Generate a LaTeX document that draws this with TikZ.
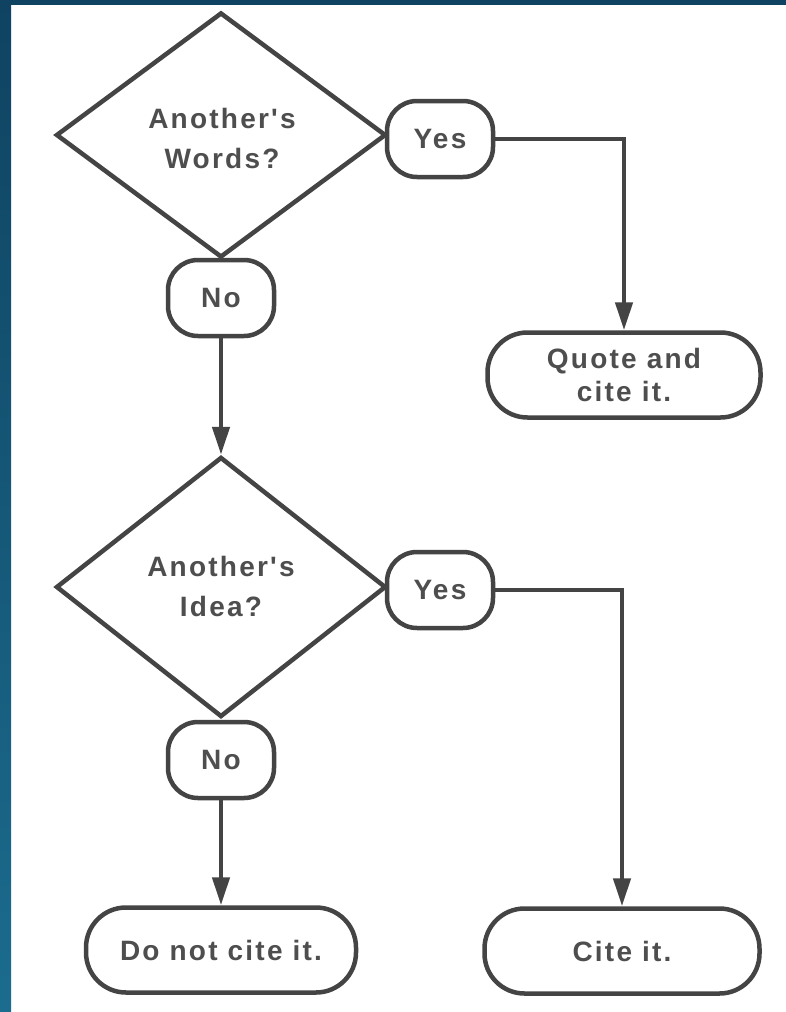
\documentclass[tikz,border=0pt]{standalone}
\usepackage{fontspec}
\newfontfamily\lab[LetterSpace=8]{Liberation Sans}
\usetikzlibrary{shapes.geometric,arrows.meta}
\definecolor{ink}{HTML}{444444}
\definecolor{txt}{HTML}{4E4E4E}
\definecolor{bandtop}{HTML}{0F4361}
\definecolor{bandbot}{HTML}{1B6C8E}
\tikzset{
  every node/.style={font=\lab\bfseries\fontsize{28}{40}\selectfont, text=txt, align=center, inner sep=0pt},
  decision/.style={draw=ink, line width=4.5pt, shape=diamond, minimum width=330pt, minimum height=#1},
  answer/.style={draw=ink, line width=4.5pt, rounded corners=30pt, minimum width=106pt, minimum height=76pt},
  outcome/.style={draw=ink, line width=4.5pt, rounded corners=40pt, minimum width=#1, minimum height=85pt},
  arr/.style={draw=ink, line width=4.5pt, -{Triangle[length=28pt,width=17pt]}},
  link/.style={draw=ink, line width=4.5pt}
}
\begin{document}
\begin{tikzpicture}[x=1pt,y=-1pt]
\useasboundingbox (0,0) rectangle (786,1012);
\fill[white] (0,0) rectangle (786,1012);
\shade[top color=bandtop, bottom color=bandbot] (0,0) rectangle (11,1012);
\fill[bandtop] (0,0) rectangle (786,5);

\node[decision=245pt] (D1) at (221,135) {};
\node at (222,138) {Another's\\Words?};
\node[answer] (Y1) at (440,139) {Yes};
\node[answer] (N1) at (221,298) {No};
\node[outcome=273pt, font=\lab\bfseries\fontsize{28}{33}\selectfont] (Q) at (624,375) {Quote and\\cite it.};

\node[decision=260pt] (D2) at (221,587) {};
\node at (221,586) {Another's\\Idea?};
\node[answer] (Y2) at (440,590) {Yes};
\node[answer] (N2) at (221,760) {No};
\node[outcome=270pt] (DN) at (221,950) {Do not cite it.};
\node[outcome=275pt] (C) at (622,951) {Cite it.};

\draw[arr] (Y1.east) -| (Q.north);
\draw[arr] (N1.south) -- (D2.north);
\draw[arr] (Y2.east) -| (C.north);
\draw[arr] (N2.south) -- (DN.north);
\end{tikzpicture}
\end{document}
